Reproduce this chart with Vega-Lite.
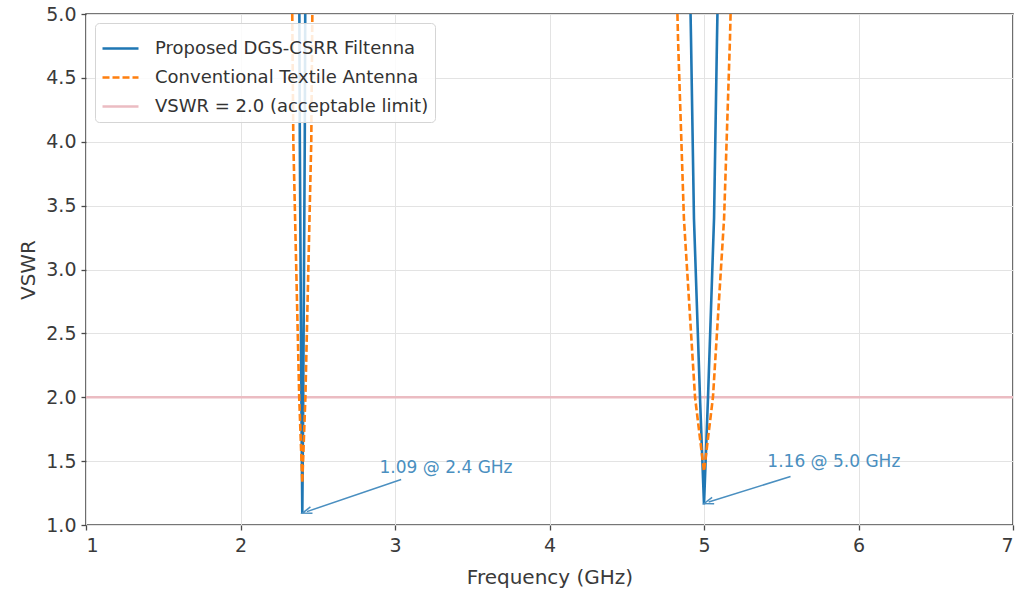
{
  "$schema": "https://vega.github.io/schema/vega-lite/v6.json",
  "width": 927,
  "height": 511,
  "autosize": "none",
  "padding": {"left": 86, "top": 14, "right": 7, "bottom": 66},
  "background": "white",
  "config": {
    "font": "DejaVu Sans",
    "view": {"stroke": "#4a4a4a", "strokeWidth": 1.6},
    "axis": {
      "labelFont": "DejaVu Sans",
      "labelFontSize": 19,
      "labelColor": "#3a3a3a",
      "titleFont": "DejaVu Sans",
      "titleFontSize": 20,
      "titleFontWeight": "normal",
      "titleColor": "#3a3a3a",
      "domain": false,
      "tickColor": "#4a4a4a",
      "tickSize": 5,
      "tickWidth": 1.3,
      "gridColor": "#e3e3e3",
      "gridWidth": 1
    },
    "legend": {
      "labelFont": "DejaVu Sans",
      "labelFontSize": 18,
      "labelColor": "#333333",
      "labelLimit": 0,
      "symbolType": "stroke",
      "symbolSize": 1296,
      "fillColor": "rgba(255,255,255,0.85)",
      "strokeColor": "#d5d5d5",
      "cornerRadius": 4,
      "padding": 6,
      "rowPadding": 0,
      "labelOffset": 15
    }
  },
  "datasets": {
    "curves": [
      {"series": "VSWR = 2.0 (acceptable limit)", "band": "L", "freq": 1.0, "vswr": 2.0},
      {"series": "VSWR = 2.0 (acceptable limit)", "band": "L", "freq": 7.0, "vswr": 2.0},
      {"series": "Proposed DGS-CSRR Filtenna", "band": "A", "freq": 2.381, "vswr": 5.0},
      {"series": "Proposed DGS-CSRR Filtenna", "band": "A", "freq": 2.384, "vswr": 4.0},
      {"series": "Proposed DGS-CSRR Filtenna", "band": "A", "freq": 2.394, "vswr": 2.0},
      {"series": "Proposed DGS-CSRR Filtenna", "band": "A", "freq": 2.4, "vswr": 1.09},
      {"series": "Proposed DGS-CSRR Filtenna", "band": "A", "freq": 2.406, "vswr": 2.0},
      {"series": "Proposed DGS-CSRR Filtenna", "band": "A", "freq": 2.416, "vswr": 4.0},
      {"series": "Proposed DGS-CSRR Filtenna", "band": "A", "freq": 2.419, "vswr": 5.0},
      {"series": "Proposed DGS-CSRR Filtenna", "band": "B", "freq": 4.913, "vswr": 5.0},
      {"series": "Proposed DGS-CSRR Filtenna", "band": "B", "freq": 4.916, "vswr": 4.8},
      {"series": "Proposed DGS-CSRR Filtenna", "band": "B", "freq": 4.935, "vswr": 3.4},
      {"series": "Proposed DGS-CSRR Filtenna", "band": "B", "freq": 4.974, "vswr": 2.0},
      {"series": "Proposed DGS-CSRR Filtenna", "band": "B", "freq": 5.0, "vswr": 1.16},
      {"series": "Proposed DGS-CSRR Filtenna", "band": "B", "freq": 5.026, "vswr": 2.0},
      {"series": "Proposed DGS-CSRR Filtenna", "band": "B", "freq": 5.065, "vswr": 3.4},
      {"series": "Proposed DGS-CSRR Filtenna", "band": "B", "freq": 5.084, "vswr": 4.8},
      {"series": "Proposed DGS-CSRR Filtenna", "band": "B", "freq": 5.087, "vswr": 5.0},
      {"series": "Conventional Textile Antenna", "band": "A", "freq": 2.335, "vswr": 5.0},
      {"series": "Conventional Textile Antenna", "band": "A", "freq": 2.342, "vswr": 4.0},
      {"series": "Conventional Textile Antenna", "band": "A", "freq": 2.38, "vswr": 2.0},
      {"series": "Conventional Textile Antenna", "band": "A", "freq": 2.4, "vswr": 1.33},
      {"series": "Conventional Textile Antenna", "band": "A", "freq": 2.42, "vswr": 2.0},
      {"series": "Conventional Textile Antenna", "band": "A", "freq": 2.458, "vswr": 4.0},
      {"series": "Conventional Textile Antenna", "band": "A", "freq": 2.465, "vswr": 5.0},
      {"series": "Conventional Textile Antenna", "band": "B", "freq": 4.828, "vswr": 5.0},
      {"series": "Conventional Textile Antenna", "band": "B", "freq": 4.832, "vswr": 4.8},
      {"series": "Conventional Textile Antenna", "band": "B", "freq": 4.87, "vswr": 3.4},
      {"series": "Conventional Textile Antenna", "band": "B", "freq": 4.942, "vswr": 2.0},
      {"series": "Conventional Textile Antenna", "band": "B", "freq": 5.0, "vswr": 1.42},
      {"series": "Conventional Textile Antenna", "band": "B", "freq": 5.058, "vswr": 2.0},
      {"series": "Conventional Textile Antenna", "band": "B", "freq": 5.13, "vswr": 3.4},
      {"series": "Conventional Textile Antenna", "band": "B", "freq": 5.168, "vswr": 4.8},
      {"series": "Conventional Textile Antenna", "band": "B", "freq": 5.172, "vswr": 5.0}
    ],
    "arrows": [
      {"from_f": 3.04, "from_v": 1.356, "to_f": 2.43, "to_v": 1.105},
      {"from_f": 5.56, "from_v": 1.38, "to_f": 5.03, "to_v": 1.18}
    ],
    "notes": [
      {"label": "1.09 @ 2.4 GHz", "freq": 2.9, "vswr": 1.45},
      {"label": "1.16 @ 5.0 GHz", "freq": 5.41, "vswr": 1.49}
    ]
  },
  "layer": [
    {
      "data": {"name": "curves"},
      "mark": {"type": "line", "clip": true},
      "encoding": {
        "x": {
          "field": "freq", "type": "quantitative", "title": "Frequency (GHz)",
          "scale": {"domain": [1, 7], "nice": false, "zero": false},
          "axis": {"values": [1, 2, 3, 4, 5, 6, 7], "format": "d", "labelPadding": 6, "titlePadding": 12}
        },
        "y": {
          "field": "vswr", "type": "quantitative", "title": "VSWR",
          "scale": {"domain": [1, 5], "nice": false, "zero": false},
          "axis": {"values": [1, 1.5, 2, 2.5, 3, 3.5, 4, 4.5, 5], "format": ".1f", "labelPadding": 5, "titlePadding": 7}
        },
        "color": {
          "field": "series", "type": "nominal", "title": null,
          "scale": {
            "domain": ["Proposed DGS-CSRR Filtenna", "Conventional Textile Antenna", "VSWR = 2.0 (acceptable limit)"],
            "range": ["#1f77b4", "#ff7f0e", "#ebbcc2"]
          },
          "legend": {"orient": "none", "legendX": 9, "legendY": 9}
        },
        "strokeDash": {
          "field": "series", "type": "nominal", "title": null,
          "scale": {
            "domain": ["Proposed DGS-CSRR Filtenna", "Conventional Textile Antenna", "VSWR = 2.0 (acceptable limit)"],
            "range": [[1, 0], [7, 3], [1, 0]]
          }
        },
        "strokeWidth": {
          "field": "series", "type": "nominal", "title": null,
          "scale": {
            "domain": ["Proposed DGS-CSRR Filtenna", "Conventional Textile Antenna", "VSWR = 2.0 (acceptable limit)"],
            "range": [2.6, 2.6, 1.2]
          }
        },
        "detail": {"field": "band"}
      }
    },
    {
      "data": {"name": "arrows"},
      "mark": {"type": "rule", "color": "#4a8fc0", "strokeWidth": 1.5},
      "encoding": {
        "x": {"field": "from_f", "type": "quantitative"},
        "y": {"field": "from_v", "type": "quantitative"},
        "x2": {"field": "to_f"},
        "y2": {"field": "to_v"}
      }
    },
    {
      "data": {"name": "arrows"},
      "mark": {"type": "point", "shape": "M -0.7 1 L 0 -1 L 0.7 1", "filled": false, "stroke": "#4a8fc0", "strokeWidth": 1.5, "size": 90, "angle": 252, "opacity": 1},
      "encoding": {
        "x": {"field": "to_f", "type": "quantitative"},
        "y": {"field": "to_v", "type": "quantitative"}
      }
    },
    {
      "data": {"name": "notes"},
      "mark": {"type": "text", "align": "left", "baseline": "middle", "fontSize": 17, "font": "DejaVu Sans", "color": "#4a8fc0"},
      "encoding": {
        "x": {"field": "freq", "type": "quantitative"},
        "y": {"field": "vswr", "type": "quantitative"},
        "text": {"field": "label"}
      }
    }
  ]
}
